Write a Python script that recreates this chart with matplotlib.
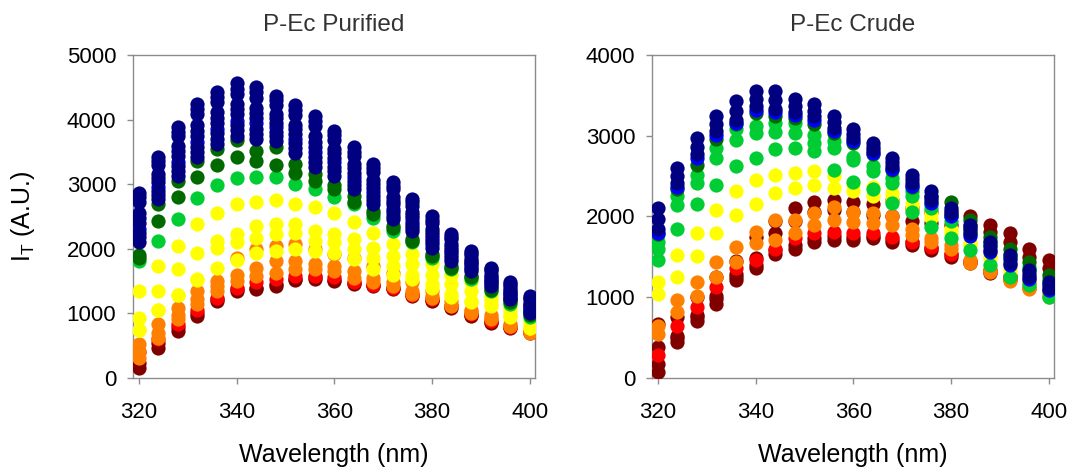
import matplotlib
matplotlib.use("Agg")
import matplotlib.pyplot as plt

plt.rcParams['font.family'] = ['Liberation Sans', 'DejaVu Sans']

# wavelength (nm)
wl = [320, 324, 328, 332, 336, 340, 344, 348, 352, 356, 360,
      364, 368, 372, 376, 380, 384, 388, 392, 396, 400]

# ---- P-Ec Purified ----
p1_darkred = [
    [160, 470, 730, 960, 1190, 1350, 1370, 1430, 1510, 1540, 1500, 1450, 1420, 1370, 1270, 1190, 1090, 960, 850, 770, 700],
    [230, 540, 790, 1010, 1230, 1380, 1400, 1460, 1530, 1560, 1520, 1470, 1440, 1390, 1300, 1210, 1110, 980, 870, 790, 710],
]
p1_red = [
    [410, 600, 830, 1060, 1240, 1400, 1480, 1530, 1580, 1580, 1560, 1480, 1440, 1390, 1290, 1220, 1110, 990, 880, 790, 720],
]
p1_orange = [
    [520, 830, 1090, 1350, 1500, 1860, 1990, 2050, 2070, 1990, 1920, 1860, 1730, 1630, 1480, 1350, 1190, 1060, 980, 830, 740],
    [310, 620, 910, 1140, 1350, 1600, 1710, 1810, 1810, 1760, 1730, 1660, 1550, 1480, 1350, 1270, 1110, 1010, 910, 800, 710],
    [420, 700, 980, 1230, 1420, 1500, 1580, 1630, 1680, 1680, 1660, 1550, 1480, 1420, 1300, 1240, 1130, 1030, 930, 810, 700],
]
p1_yellow = [
    [1350, 1730, 2050, 2380, 2560, 2690, 2730, 2750, 2700, 2640, 2560, 2410, 2250, 2080, 1920, 1760, 1600, 1480, 1270, 1090, 880],
    [930, 1350, 1680, 1940, 2120, 2230, 2360, 2380, 2380, 2280, 2230, 2150, 2020, 1890, 1760, 1600, 1450, 1350, 1200, 1020, 830],
    [750, 1060, 1290, 1530, 2020, 2100, 2170, 2230, 2250, 2120, 2100, 1990, 1860, 1730, 1600, 1450, 1300, 1190, 1140, 960, 780],
    [740, 1050, 1280, 1520, 1710, 1820, 1940, 1970, 1990, 1970, 1940, 1840, 1690, 1600, 1530, 1400, 1260, 1170, 1120, 950, 770],
]
p1_ltgreen = [
    [1810, 2120, 2460, 2790, 2980, 3100, 3110, 3110, 3000, 2920, 2800, 2700, 2480, 2280, 2100, 1860, 1680, 1530, 1350, 1150, 950],
]
p1_dkgreen = [
    [1900, 2690, 3050, 3360, 3550, 3680, 3520, 3570, 3310, 3160, 2980, 2820, 2590, 2360, 2150, 1920, 1740, 1580, 1390, 1200, 1000],
    [1860, 2430, 2800, 3110, 3290, 3420, 3360, 3290, 3180, 3050, 2920, 2720, 2540, 2320, 2120, 1890, 1710, 1560, 1360, 1180, 980],
]
p1_blue = [
    [2300, 2950, 3350, 3650, 3850, 3980, 3950, 3880, 3700, 3500, 3340, 3110, 2880, 2620, 2420, 2170, 1950, 1760, 1500, 1300, 1090],
]
p1_navy = [
    [2870, 3420, 3890, 4240, 4430, 4560, 4500, 4370, 4220, 4060, 3830, 3570, 3310, 3030, 2770, 2500, 2230, 1970, 1710, 1480, 1270],
    [2795, 3355, 3815, 4160, 4350, 4480, 4420, 4300, 4145, 3980, 3760, 3505, 3250, 2975, 2720, 2450, 2190, 1940, 1680, 1455, 1245],
    [2720, 3290, 3740, 4080, 4270, 4400, 4340, 4230, 4070, 3900, 3690, 3440, 3190, 2920, 2670, 2400, 2150, 1910, 1650, 1430, 1220],
    [2560, 3160, 3590, 3910, 4110, 4240, 4180, 4090, 3920, 3740, 3550, 3310, 3070, 2800, 2570, 2310, 2070, 1840, 1600, 1370, 1160],
    [2480, 3095, 3515, 3830, 4030, 4160, 4100, 4020, 3850, 3660, 3480, 3245, 3005, 2745, 2520, 2260, 2025, 1810, 1570, 1345, 1135],
    [2400, 3030, 3440, 3750, 3950, 4080, 4020, 3950, 3780, 3580, 3410, 3180, 2940, 2690, 2470, 2210, 1980, 1780, 1540, 1320, 1110],
    [2250, 2900, 3280, 3580, 3790, 3920, 3860, 3810, 3640, 3420, 3270, 3050, 2820, 2570, 2370, 2120, 1900, 1720, 1480, 1270, 1060],
    [2175, 2835, 3205, 3500, 3705, 3835, 3780, 3740, 3565, 3340, 3200, 2985, 2755, 2515, 2325, 2070, 1855, 1690, 1450, 1245, 1035],
    [2100, 2770, 3130, 3420, 3620, 3750, 3700, 3670, 3490, 3260, 3130, 2920, 2690, 2460, 2280, 2020, 1810, 1660, 1420, 1220, 1010],
]

# ---- P-Ec Crude ----
p2_darkred = [
    [670, 750, 1000, 1250, 1450, 1750, 1950, 2100, 2180, 2200, 2180, 2160, 2200, 2100, 2050, 2000, 2000, 1890, 1790, 1600, 1460],
    [380, 500, 780, 1020, 1290, 1480, 1800, 1950, 2050, 2080, 2050, 2020, 2000, 1950, 1920, 1900, 1880, 1810, 1690, 1500, 1360],
    [70, 440, 710, 920, 1210, 1360, 1540, 1600, 1690, 1710, 1710, 1730, 1690, 1650, 1580, 1500, 1420, 1300, 1230, 1180, 1060],
    [170, 520, 760, 980, 1250, 1400, 1580, 1650, 1730, 1760, 1750, 1760, 1720, 1680, 1610, 1530, 1450, 1340, 1260, 1200, 1080],
]
p2_red = [
    [280, 650, 880, 1130, 1360, 1460, 1600, 1730, 1790, 1810, 1790, 1790, 1750, 1690, 1620, 1540, 1440, 1330, 1220, 1120, 1030],
]
p2_orange = [
    [650, 960, 1190, 1440, 1620, 1810, 1960, 1960, 2040, 2120, 2060, 2040, 2000, 1850, 1730, 1650, 1460, 1340, 1230, 1120, 1020],
    [550, 820, 1020, 1250, 1440, 1670, 1710, 1790, 1890, 1960, 1935, 1915, 1894, 1770, 1690, 1600, 1430, 1310, 1200, 1100, 1000],
]
p2_yellow = [
    [1190, 1520, 1790, 2080, 2310, 2450, 2520, 2540, 2560, 2500, 2400, 2370, 2290, 2160, 2040, 1850, 1690, 1520, 1360, 1200, 1060],
    [1040, 1250, 1510, 1790, 2020, 2160, 2290, 2350, 2390, 2350, 2310, 2250, 2200, 2100, 1980, 1800, 1650, 1480, 1320, 1170, 1030],
]
p2_ltgreen = [
    [1690, 2250, 2520, 2850, 3080, 3120, 3160, 3160, 3010, 2930, 2740, 2620, 2475, 2310, 2150, 2000, 1850, 1700, 1540, 1380, 1220],
    [1600, 2140, 2410, 2720, 2950, 3030, 3050, 3030, 2910, 2850, 2700, 2560, 2420, 2260, 2100, 1950, 1800, 1650, 1500, 1340, 1180],
    [1460, 1850, 2160, 2390, 2620, 2720, 2830, 2850, 2810, 2580, 2430, 2340, 2164, 2060, 1873, 1730, 1580, 1400, 1250, 1150, 1000],
]
p2_dkgreen = [
    [1780, 2340, 2640, 2960, 3140, 3280, 3250, 3220, 3150, 3030, 2910, 2770, 2570, 2370, 2240, 2180, 1960, 1750, 1600, 1440, 1270],
]
p2_blue = [
    [1790, 2370, 2730, 3010, 3160, 3320, 3290, 3260, 3200, 3060, 2940, 2790, 2590, 2380, 2170, 2010, 1760, 1560, 1400, 1230, 1090],
]
p2_navy = [
    [2100, 2600, 2970, 3240, 3430, 3550, 3550, 3450, 3390, 3240, 3080, 2910, 2720, 2510, 2310, 2100, 1900, 1690, 1520, 1340, 1190],
    [1970, 2500, 2860, 3140, 3310, 3450, 3440, 3370, 3310, 3170, 3020, 2860, 2670, 2460, 2250, 2070, 1840, 1640, 1470, 1290, 1150],
    [1840, 2410, 2770, 3060, 3200, 3370, 3330, 3300, 3240, 3100, 2970, 2820, 2620, 2410, 2200, 2040, 1790, 1580, 1420, 1250, 1110],
]

colors = ['#800000', '#ff0000', '#ff8000', '#ffff00', '#00cc33', '#006a00', '#0000ff', '#000080']

panels = [
    ("P-Ec Purified", 5000,
     [p1_darkred, p1_red, p1_orange, p1_yellow, p1_ltgreen, p1_dkgreen, p1_blue, p1_navy]),
    ("P-Ec Crude", 4000,
     [p2_darkred, p2_red, p2_orange, p2_yellow, p2_ltgreen, p2_dkgreen, p2_blue, p2_navy]),
]

fig = plt.figure(figsize=(10.68, 4.69), dpi=100)
lefts = [133 / 1068, 652 / 1068]

for i, (title, ymax, groups) in enumerate(panels):
    ax = fig.add_axes([lefts[i], 91 / 469, 402 / 1068, 323 / 469])
    for col, group in zip(colors, groups):
        for series in group:
            ax.scatter(wl, series, s=105, color=col, linewidths=0, zorder=3)

    ax.set_xlim(318.8, 401.1)
    ax.set_ylim(0, ymax)
    ax.set_xticks([320, 340, 360, 380, 400])
    ax.set_yticks(range(0, ymax + 1, 1000))
    for sp in ax.spines.values():
        sp.set_color('#8c8c8c')
        sp.set_linewidth(1)
    ax.tick_params(direction='out', length=4, width=1, color='#8c8c8c',
                   labelsize=16, labelcolor='black')
    ax.tick_params(axis='x', pad=13)
    ax.tick_params(axis='y', pad=8)

    ax.text(0.5, 1.093, title, transform=ax.transAxes, ha='center', va='center',
            fontsize=17.5, color='#333333')
    ax.text(0.5, -0.238, "Wavelength (nm)", transform=ax.transAxes, ha='center',
            va='center', fontsize=18, color='black')
    if i == 0:
        ax.text(-0.274, 0.5, "I$_\\mathregular{T}$ (A.U.)", transform=ax.transAxes,
                ha='center', va='center', rotation=90, fontsize=18, color='black')

fig.savefig("out.png", dpi=100)
